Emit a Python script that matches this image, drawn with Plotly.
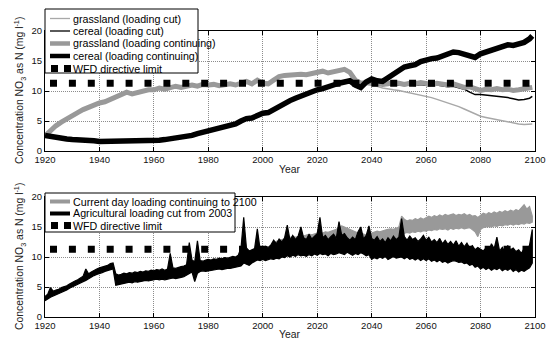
import plotly.graph_objects as go

# ---------------- data ----------------
years_top = list(range(1920, 2100, 2)) + [2099]
grass_cont = [2.5, 3.5, 4.2, 4.8, 5.4, 5.9, 6.4, 6.9, 7.3, 7.7,
              8.0, 8.2, 8.6, 9.0, 9.4, 9.8, 9.5, 9.8, 10.0, 10.2,
              10.2, 10.5, 10.3, 10.6, 10.8, 10.6, 10.8, 11.0, 10.8, 11.1,
              11.0, 11.1, 10.9, 11.1, 11.2, 11.0, 11.3, 11.6, 11.2, 11.8,
              11.3, 11.2, 11.8, 12.4, 12.6, 12.7, 12.6, 12.8, 12.7, 12.9,
              13.1, 13.3, 13.0, 13.2, 13.5, 13.6, 13.1, 11.8, 11.3, 11.4,
              11.5, 11.3, 11.1, 11.2, 11.4, 11.3, 11.1, 11.3, 11.2, 11.4,
              11.2, 11.1, 11.3, 11.1, 11.0, 11.2, 10.9, 10.6, 10.7, 10.3,
              10.1, 10.3, 10.2, 10.4, 10.2, 10.3, 10.1, 10.2, 10.3, 10.4,
              10.6]
cereal_cont = [2.6, 2.4, 2.2, 2.1, 2.0, 1.9, 1.9, 1.8, 1.7, 1.7,
               1.6, 1.6, 1.6, 1.6, 1.6, 1.6, 1.6, 1.6, 1.7, 1.7,
               1.8, 1.8, 1.9, 2.0, 2.1, 2.2, 2.4, 2.6, 2.9, 3.1,
               3.3, 3.5, 3.7, 3.9, 4.2, 4.5, 5.0, 5.4, 5.5, 5.9,
               6.3, 6.4, 6.9, 7.6, 8.0, 8.4, 8.8, 9.2, 9.5, 9.8,
               10.2, 10.4, 10.8, 11.0, 11.3, 11.6, 11.7, 11.0, 10.6, 11.5,
               12.0, 11.7, 11.6, 12.2, 12.8, 13.6, 14.0, 14.2, 14.4, 14.9,
               15.2, 15.4, 15.5, 15.8, 16.3, 16.5, 16.4, 16.2, 16.0, 15.6,
               16.2, 16.5, 16.9, 17.2, 17.4, 17.7, 17.6, 17.9, 18.1, 18.7,
               19.2]
years_cut = list(range(2030, 2100, 2)) + [2099]
grass_cut = [13.6, 13.1, 11.8, 11.3, 11.1, 11.0, 10.8, 10.5, 10.3, 10.2,
             10.1, 9.9, 9.7, 9.6, 9.4, 9.2, 8.9, 8.6, 8.3, 8.1,
             7.8, 7.4, 7.0, 6.6, 6.2, 5.8, 5.6, 5.4, 5.2, 5.1,
             4.9, 4.7, 4.5, 4.4, 4.4, 4.5]
cereal_cut = [11.6, 11.7, 11.0, 10.6, 11.3, 11.4, 11.1, 10.9, 11.0, 11.1,
              11.0, 10.9, 11.0, 10.9, 11.1, 10.9, 10.8, 11.0, 10.8, 10.7,
              10.8, 10.6, 10.3, 9.8, 9.4, 9.4, 9.3, 9.3, 9.2, 9.1,
              8.9, 8.7, 8.5, 8.6, 8.8, 9.1]
wfd_years = [1920, 2100]
wfd_limit = 11.3

years_bot = list(range(1920, 2100))
agri_cut_lo = [2.7, 3.0, 3.3, 3.6, 3.8, 3.9, 4.1, 4.3, 4.5, 4.8,
               5.0, 5.2, 5.4, 5.7, 5.9, 6.1, 6.4, 6.6, 6.9, 7.1,
               7.3, 7.4, 7.6, 7.7, 7.9, 8.0, 5.3, 5.5, 5.6, 5.6,
               5.7, 5.8, 5.7, 5.9, 5.8, 5.9, 6.0, 6.1, 6.0, 6.2,
               6.2, 6.3, 6.2, 6.3, 6.2, 6.3, 6.4, 6.5, 6.4, 6.5,
               6.6, 6.7, 6.9, 7.2, 7.5, 5.9, 7.3, 7.6, 7.7, 7.6,
               7.7, 7.8, 7.8, 7.9, 8.0, 7.9, 8.0, 8.1, 8.1, 8.2,
               8.2, 8.4, 8.5, 9.0, 8.8, 8.6, 9.0, 9.3, 9.5, 9.4,
               9.6, 9.4, 9.5, 9.7, 9.6, 9.8, 9.7, 10.0, 9.9, 10.2,
               10.0, 10.3, 10.1, 10.4, 10.2, 10.3, 10.1, 10.4, 10.2, 10.5,
               10.3, 10.6, 10.4, 10.5, 10.2, 10.6, 10.4, 10.5, 10.7, 10.6,
               10.4, 10.8, 10.5, 10.3, 10.6, 10.4, 10.7, 10.5, 10.2, 10.4,
               9.6, 9.9, 9.7, 10.0, 9.8, 10.1, 9.6, 9.9, 10.1, 9.8,
               9.9, 10.0, 9.7, 10.0, 9.6, 9.8, 9.5, 9.8, 9.4, 9.7,
               9.4, 9.7, 9.3, 9.5, 9.2, 9.5, 9.1, 9.3, 9.0, 9.2,
               9.4, 9.3, 9.1, 9.2, 8.9, 9.0, 8.6, 8.8, 8.3, 8.5,
               8.0, 8.3, 7.9, 8.2, 7.8, 8.1, 7.9, 8.2, 7.7, 8.0,
               7.8, 8.1, 7.6, 7.9, 7.5, 7.8, 7.6, 7.9, 8.2, 9.0]
agri_cut_hi = [3.4, 3.8, 4.9, 4.3, 4.5, 4.6, 4.9, 5.0, 5.2, 5.5,
               5.8, 6.0, 6.2, 6.5, 6.8, 8.0, 7.2, 7.5, 7.8, 8.0,
               8.2, 8.3, 8.5, 8.6, 8.9, 9.0, 7.2, 7.0, 7.1, 7.3,
               7.2, 7.4, 7.3, 7.5, 7.4, 7.6, 7.5, 7.7, 7.6, 7.8,
               7.7, 7.9, 7.8, 8.0, 7.8, 8.0, 10.6, 8.2, 8.1, 8.3,
               8.4, 8.5, 8.7, 12.4, 9.5, 9.2, 12.7, 9.4, 9.3, 9.5,
               9.6, 9.5, 9.7, 9.6, 9.8, 9.7, 9.9, 9.8, 10.0, 10.1,
               10.0, 10.3, 11.5, 16.6, 11.5, 11.0, 11.2, 11.4, 14.7, 11.3,
               11.5, 11.8, 11.6, 12.0, 12.8, 12.2, 13.0, 12.5, 13.2, 15.3,
               12.8, 13.6, 12.9, 13.5, 15.0, 13.2, 12.9, 13.8, 13.0, 13.4,
               13.9, 16.6, 13.2, 13.6, 12.9, 13.4, 13.8, 13.1, 15.9, 13.6,
               13.9, 13.2, 12.8, 13.3, 12.9, 14.2, 15.0, 13.0, 13.6, 15.2,
               13.1, 12.8, 13.4, 12.6, 13.0, 12.4, 13.2, 12.7, 13.5, 12.9,
               13.3, 16.4, 13.4, 12.8, 13.5, 12.9, 13.2, 12.6, 13.0, 13.6,
               12.8, 13.3, 12.5, 12.9, 12.4, 13.1, 12.2, 12.8, 12.1, 12.6,
               12.0, 12.7, 11.8, 12.4, 11.7, 12.3, 11.5, 11.9, 11.2, 11.6,
               11.3, 11.0, 11.5, 10.9, 12.2, 11.4, 13.3, 11.0, 11.6, 10.8,
               11.9, 11.2, 11.5, 10.9, 11.2, 10.6, 11.4, 10.8, 12.0, 14.6]
years_cont = list(range(2003, 2100))
current_lo = [10.0, 10.1, 10.2, 10.3, 10.4, 10.4, 10.5,
              10.6, 10.7, 10.7, 10.8, 10.8, 10.9, 10.9, 11.0, 11.0, 11.1,
              11.1, 11.2, 11.2, 11.3, 11.3, 11.4, 11.4, 11.5, 11.5, 11.6,
              11.6, 11.7, 11.7, 11.8, 11.8, 11.8, 11.9, 11.9, 12.0, 12.0,
              12.0, 12.1, 12.1, 12.2, 12.2, 12.3, 12.3, 12.4, 12.4, 12.5,
              12.6, 13.8, 14.0, 14.1, 14.0, 14.2, 14.1, 14.3, 14.2, 14.4,
              14.3, 14.5, 14.4, 14.6, 14.5, 14.7, 14.6, 14.7, 14.5, 14.8,
              14.6, 14.8, 14.7, 14.9, 14.7, 14.8, 14.9, 14.6, 14.2, 13.4,
              14.6, 14.9, 15.0, 15.1, 15.0, 15.2, 15.1, 15.3, 15.2, 15.4,
              15.3, 15.5, 15.3, 15.5, 15.4, 15.6, 15.5, 15.7, 15.6, 15.8]
current_hi = [12.2, 12.5, 12.6, 12.8, 12.9, 13.0, 13.1,
              13.2, 13.4, 13.3, 13.5, 13.6, 13.5, 13.7, 13.8, 13.7, 13.9,
              14.0, 14.1, 14.0, 14.2, 14.1, 14.3, 14.4, 14.6, 15.0, 15.2,
              15.0, 14.8, 14.6, 14.4, 14.2, 14.0, 14.0, 13.8, 13.6, 13.5,
              14.0, 14.1, 14.3, 14.2, 14.4, 14.5, 14.6, 14.7, 14.6, 14.8,
              15.0, 16.8, 16.3, 16.0, 16.2, 16.1, 16.4, 16.2, 16.5, 16.3,
              16.6, 16.8, 16.6, 16.9, 16.7, 17.0, 16.8, 17.1, 16.9, 17.0,
              17.2, 16.9, 17.1, 17.0, 17.2, 16.9, 17.1, 16.8, 16.9, 16.6,
              17.0, 17.3, 17.1, 17.4, 17.2, 17.5, 17.3, 17.6, 17.4, 17.7,
              17.5, 17.8, 17.6, 17.9, 17.7, 18.2, 18.7, 18.0, 18.4, 16.8]

x_ticks = list(range(1920, 2101, 20))
y_ticks = [0, 5, 10, 15, 20]

top_names = ["grassland (loading cut)", "cereal (loading cut)",
             "grassland (loading continuing)", "cereal (loading continuing)",
             "WFD directive limit"]
bot_names = ["Current day loading continuing to 2100",
             "Agricultural loading cut from 2003", "WFD directive limit"]

# ---------------- styling ----------------
W, H = 549, 338
GREY = "#999999"
GREY_THIN = "#a8a8a8"
FONT = "Liberation Sans, Arial, sans-serif"
WFD_DASH = "0px,5px,7px,6.9px"


def px(x):
    return x / W


def py(y):
    return 1 - y / H


fig = go.Figure()

# top panel
fig.add_trace(go.Scatter(x=years_cut, y=grass_cut, mode="lines", xaxis="x", yaxis="y",
                         line=dict(color=GREY_THIN, width=1.5)))
fig.add_trace(go.Scatter(x=years_cut, y=cereal_cut, mode="lines", xaxis="x", yaxis="y",
                         line=dict(color="black", width=1.5)))
fig.add_trace(go.Scatter(x=years_top, y=grass_cont, mode="lines", xaxis="x", yaxis="y",
                         line=dict(color=GREY, width=5)))
fig.add_trace(go.Scatter(x=years_top, y=cereal_cont, mode="lines", xaxis="x", yaxis="y",
                         line=dict(color="black", width=5.5)))
fig.add_trace(go.Scatter(x=wfd_years, y=[wfd_limit, wfd_limit], mode="lines", xaxis="x", yaxis="y",
                         line=dict(color="black", width=7, dash=WFD_DASH)))

# bottom panel
fig.add_trace(go.Scatter(x=years_cont + years_cont[::-1], y=current_hi + current_lo[::-1],
                         mode="lines", fill="toself", fillcolor=GREY, xaxis="x2", yaxis="y2",
                         line=dict(color=GREY, width=1.2)))
fig.add_trace(go.Scatter(x=years_bot + years_bot[::-1], y=agri_cut_hi + agri_cut_lo[::-1],
                         mode="lines", fill="toself", fillcolor="black", xaxis="x2", yaxis="y2",
                         line=dict(color="black", width=1.2)))
fig.add_trace(go.Scatter(x=wfd_years, y=[wfd_limit, wfd_limit], mode="lines", xaxis="x2", yaxis="y2",
                         line=dict(color="black", width=7, dash=WFD_DASH)))

axis_common = dict(ticks="inside", ticklen=4, tickcolor="black", tickwidth=1,
                   showline=True, linecolor="black", linewidth=1, mirror="ticks",
                   showgrid=True, gridcolor="#8c8c8c", griddash="1px,1px", gridwidth=1,
                   zeroline=False, automargin=False,
                   tickfont=dict(family=FONT, size=9.5, color="#111"))

xdom = [px(45), px(535)]
fig.update_layout(
    width=W, height=H, margin=dict(l=0, r=0, t=0, b=0, pad=0),
    paper_bgcolor="white", plot_bgcolor="white", showlegend=False,
    xaxis=dict(domain=xdom, anchor="y", range=[1920, 2100], tickvals=x_ticks, **axis_common),
    yaxis=dict(domain=[py(151), py(31)], anchor="x", range=[0, 20], tickvals=y_ticks, **axis_common),
    xaxis2=dict(domain=xdom, anchor="y2", range=[1920, 2100], tickvals=x_ticks, **axis_common),
    yaxis2=dict(domain=[py(317), py(197)], anchor="x2", range=[0, 20], tickvals=y_ticks, **axis_common),
)

shapes = []
annotations = []


def legend(box, rows, names, samples):
    x0, y0, x1, y1 = box
    shapes.append(dict(type="rect", xref="paper", yref="paper", layer="above",
                       x0=px(x0), x1=px(x1), y0=py(y1), y1=py(y0),
                       fillcolor="white", line=dict(color="black", width=1)))
    for yy, name, (col, wid, dash) in zip(rows, names, samples):
        if dash:
            shapes.append(dict(type="line", xref="paper", yref="paper", layer="above",
                               x0=px(51), x1=px(71), y0=py(yy), y1=py(yy),
                               line=dict(color=col, width=wid, dash=dash)))
        else:
            shapes.append(dict(type="line", xref="paper", yref="paper", layer="above",
                               x0=px(50), x1=px(70), y0=py(yy), y1=py(yy),
                               line=dict(color=col, width=wid)))
        annotations.append(dict(xref="paper", yref="paper", x=px(71), y=py(yy),
                                xanchor="left", yanchor="middle", showarrow=False,
                                text=name, font=dict(family=FONT, size=10.7, color="black")))


legend((45, 9, 198, 73), [18.5, 31, 43.5, 56, 68.5], top_names,
       [(GREY_THIN, 1.3, None), ("black", 1.3, None), (GREY, 4.5, None),
        ("black", 4.5, None), ("black", 7, "7px,6px")])
legend((45, 193, 235, 232), [201.5, 213.5, 225.5], bot_names,
       [(GREY, 4, None), ("black", 4, None), ("black", 7, "7px,6px")])

ytitle = "Concentration NO<sub>3</sub> as N (mg l<sup>-1</sup>)"
for yc in (91, 257):
    annotations.append(dict(xref="paper", yref="paper", x=px(20), y=py(yc), textangle=-90,
                            xanchor="center", yanchor="middle", showarrow=False, text=ytitle,
                            font=dict(family=FONT, size=10.4, color="#222")))
for yc in (169, 334):
    annotations.append(dict(xref="paper", yref="paper", x=px(290), y=py(yc),
                            xanchor="center", yanchor="middle", showarrow=False, text="Year",
                            font=dict(family=FONT, size=10.4, color="#222")))

fig.update_layout(shapes=shapes, annotations=annotations)
fig.write_html(
    "out.html",
    config={"displayModeBar": False},
    post_script="document.body.style.margin='0';document.body.style.padding='0';"
                "document.body.style.overflow='hidden';",
)
